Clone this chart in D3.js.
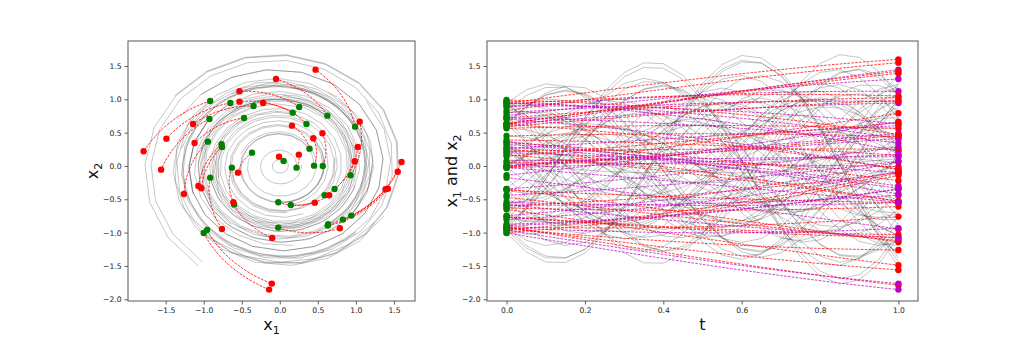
<!DOCTYPE html>
<html><head><meta charset="utf-8">
<script src="https://cdn.jsdelivr.net/npm/d3@7"></script>
<style>body{margin:0;background:#fff}svg{display:block}text{font-family:"DejaVu Sans",sans-serif}</style>
</head><body><svg id="c" width="1020" height="339"></svg>
<script>
// start points (green)
const startX1 = [-0.915,-0.65,-0.345,-0.925,-0.47,0.255,0.17,0.35,0.625,0.99,-0.945,-0.765,-0.76,-0.365,0.39,0.05,0.22,0.45,0.565,-0.63,-0.915,0.93,0.72,0.59,-0.02,0.145,-0.60,0.63,0.83,0.94,-0.02,-1.0,-0.955,0.635];
const startX2 = [0.975,0.945,0.90,0.705,0.72,0.885,0.80,0.63,0.755,0.59,0.365,0.325,0.285,0.20,0.26,0.075,-0.025,0.005,0.0,-0.025,-0.175,-0.14,-0.345,-0.44,-0.545,-0.585,-0.58,-0.895,-0.805,-0.745,-0.925,-1.005,-0.96,-0.875];
// end points at t = 1 (red)
const endX1 = [-1.79,-1.49,-1.14,-1.56,-1.12,-0.53,-0.53,-0.22,-0.05,0.47,-1.26,-1.07,-1.03,-0.55,0.16,-0.01,0.25,0.44,0.56,-0.61,-0.76,1.05,1.025,0.985,0.46,0.65,-0.10,1.42,1.55,1.60,0.79,-0.14,-0.105,1.39];
const endX2 = [0.22,0.41,0.63,-0.055,0.345,1.12,0.965,0.945,1.305,1.445,-0.42,-0.30,-0.335,-0.10,0.605,0.14,0.17,0.415,0.49,-0.545,-0.945,0.665,0.285,0.07,-0.55,-0.44,-1.08,-0.34,-0.085,0.06,-0.935,-1.855,-1.765,-0.35];
// true system (grey): rotation per unit time (rad) and growth factor per unit time
const trueRotation = 6.45;
const trueGrowth = 1.3;
const xTicksLeft = [-1.5,-1.0,-0.5,0.0,0.5,1.0,1.5];
const yTicks = [-2.0,-1.5,-1.0,-0.5,0.0,0.5,1.0,1.5];
const tTicks = [0.0,0.2,0.4,0.6,0.8,1.0];

const svg = d3.select('#c');
const fmt = d => d3.format('.1f')(d).replace('-', '\u2212');
const N = 20, NL = 40;

function trueTraj(i){
  const r0 = Math.hypot(startX1[i], startX2[i]), a0 = Math.atan2(startX2[i], startX1[i]);
  return d3.range(N+1).map(k => { const t = k/N, r = r0*Math.pow(trueGrowth,t), a = a0+trueRotation*t;
    return {t, x1: r*Math.cos(a), x2: r*Math.sin(a)}; });
}
function learnedTraj(i){
  const r0 = Math.hypot(startX1[i], startX2[i]), a0 = Math.atan2(startX2[i], startX1[i]);
  const r1 = Math.hypot(endX1[i], endX2[i]); let a1 = Math.atan2(endX2[i], endX1[i]);
  let da = a1 - a0; while (da > Math.PI) da -= 2*Math.PI; while (da < -Math.PI) da += 2*Math.PI;
  return d3.range(NL+1).map(k => { const t = k/NL, r = r0*Math.pow(r1/r0,t), a = a0+da*t;
    return {t, x1: r*Math.cos(a), x2: r*Math.sin(a)}; });
}
const idx = d3.range(startX1.length);
const trues = idx.map(trueTraj), learned = idx.map(learnedTraj);

function frame(g, x, y, xt){
  const xa = g.append('g').attr('transform',`translate(0,${y.range()[0]})`)
    .call(d3.axisBottom(x).tickValues(xt).tickFormat(fmt).tickSize(3.5).tickPadding(3));
  const ya = g.append('g').attr('transform',`translate(${x.range()[0]},0)`)
    .call(d3.axisLeft(y).tickValues(yTicks).tickFormat(fmt).tickSize(3.5).tickPadding(3));
  [xa,ya].forEach(a => { a.select('.domain').remove(); a.selectAll('line').attr('stroke','#333').attr('stroke-width',0.8);
    a.selectAll('text').attr('font-size',7.6).attr('fill','#222').attr('font-family','"DejaVu Sans",sans-serif'); });
  g.append('rect').attr('x',x.range()[0]).attr('y',y.range()[1]).attr('width',x.range()[1]-x.range()[0])
    .attr('height',y.range()[0]-y.range()[1]).attr('fill','none').attr('stroke','#666').attr('stroke-width',1.1);
}
function label(x, y, parts, rotate){
  const t = svg.append('text').attr('font-size',16).attr('fill','#111').attr('text-anchor','middle')
    .attr('transform', rotate ? `translate(${x},${y}) rotate(-90)` : `translate(${x},${y})`);
  parts.forEach(p => {
    if (p.sub) t.append('tspan').attr('font-size',11).attr('dy',4).text(p.sub);
    else t.append('tspan').attr('dy', p.up ? -4 : 0).text(p.s);
  });
}

// ---------- left panel ----------
const xL = d3.scaleLinear().domain([-1.995,1.777]).range([128,415]);
const yS = d3.scaleLinear().domain([-2.026,1.875]).range([301,41]);
const gL = svg.append('g');
const lineL = d3.line().x(d => xL(d.x1)).y(d => yS(d.x2));
gL.selectAll('.gt').data(trues).join('path').attr('d',lineL).attr('fill','none')
  .attr('stroke','#000').attr('stroke-opacity',0.25).attr('stroke-width',0.9);
gL.selectAll('.lt').data(learned).join('path').attr('d',lineL).attr('fill','none')
  .attr('stroke','#ff0000').attr('stroke-opacity',0.85).attr('stroke-width',1).attr('stroke-dasharray','2.6,1.3');
gL.selectAll('.gs').data(idx).join('circle').attr('cx',i=>xL(startX1[i])).attr('cy',i=>yS(startX2[i])).attr('r',3.2).attr('fill','#008000');
gL.selectAll('.re').data(idx).join('circle').attr('cx',i=>xL(endX1[i])).attr('cy',i=>yS(endX2[i])).attr('r',3.2).attr('fill','#ff0000');
frame(gL, xL, yS, xTicksLeft);

// ---------- right panel ----------
const xR = d3.scaleLinear().domain([-0.05,1.05]).range([487,918]);
const gR = svg.append('g');
const l1 = d3.line().x(d => xR(d.t)).y(d => yS(d.x1));
const l2 = d3.line().x(d => xR(d.t)).y(d => yS(d.x2));
trues.forEach(tr => {
  gR.append('path').attr('d',l1(tr)).attr('fill','none').attr('stroke','#000').attr('stroke-opacity',0.25).attr('stroke-width',0.9);
  gR.append('path').attr('d',l2(tr)).attr('fill','none').attr('stroke','#000').attr('stroke-opacity',0.25).attr('stroke-width',0.9);
});
learned.forEach(tr => {
  gR.append('path').attr('d',l1(tr)).attr('fill','none').attr('stroke','#ff0000').attr('stroke-opacity',0.75).attr('stroke-width',1).attr('stroke-dasharray','2.6,1.3');
  gR.append('path').attr('d',l2(tr)).attr('fill','none').attr('stroke','#bf00bf').attr('stroke-opacity',0.75).attr('stroke-width',1).attr('stroke-dasharray','2.6,1.3');
});
idx.forEach(i => {
  gR.append('circle').attr('cx',xR(0)).attr('cy',yS(startX1[i])).attr('r',3.2).attr('fill','#008000');
  gR.append('circle').attr('cx',xR(0)).attr('cy',yS(startX2[i])).attr('r',3.2).attr('fill','#008000');
  gR.append('circle').attr('cx',xR(1)).attr('cy',yS(endX1[i])).attr('r',3.2).attr('fill','#ff0000');
  gR.append('circle').attr('cx',xR(1)).attr('cy',yS(endX2[i])).attr('r',3.2).attr('fill','#bf00bf');
});
frame(gR, xR, yS, tTicks);

// labels
label(271.5, 330, [{s:'x'},{sub:'1'}], false);
label(98, 171, [{s:'x'},{sub:'2'}], true);
label(457, 171, [{s:'x'},{sub:'1'},{s:' and x', up:true},{sub:'2'}], true);
label(702.5, 330, [{s:'t'}], false);
</script></body></html>
